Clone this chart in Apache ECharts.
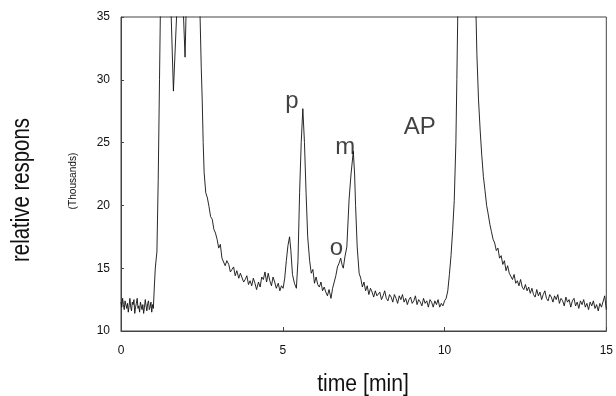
<!DOCTYPE html>
<html><head><meta charset="utf-8">
<script src="https://cdn.jsdelivr.net/npm/echarts@6/dist/echarts.min.js"></script>
<style>html,body{margin:0;padding:0;background:#fff}#c{width:616px;height:396px}</style>
</head><body><div id="c"></div>
<script>
// x tick labels (minutes) and y tick labels (thousands)
const xTicks = [0, 5, 10, 15];
const yTicks = [10, 15, 20, 25, 30, 35];

// chromatogram trace: [time (min), response (thousands)]
const baselineStart = [
 [0.00,12.3],[0.025,11.9],[0.05,12.6],[0.075,12.1],[0.10,11.7],[0.125,12.4],[0.15,12.5],[0.175,11.8],
 [0.20,12.2],[0.225,11.5],[0.25,12.0],[0.275,12.6],[0.30,11.9],[0.325,11.6],[0.35,12.3],[0.375,12.1],
 [0.40,12.5],[0.425,11.4],[0.45,11.9],[0.475,12.2],[0.50,12.6],[0.525,11.8],[0.55,12.0],[0.575,11.5],
 [0.60,12.3],[0.625,12.4],[0.65,11.7],[0.675,12.1],[0.70,11.4],[0.725,11.9],[0.75,12.5],[0.775,12.0],
 [0.80,11.6],[0.825,12.2],[0.85,12.4],[0.875,11.7],[0.90,11.9],[0.925,12.3],[0.95,11.5],[0.975,12.1],[1.00,11.8]
];
const solventPeak = [
 [1.03,13.5],[1.06,15.0],[1.09,15.8],[1.11,16.3],[1.15,22],[1.19,30],[1.22,36],[1.26,45],[1.3,60],
 [1.4,70],[1.5,40],[1.55,35.2],[1.62,29.1],[1.72,35.2],[1.78,40],[1.85,50],[1.9,40],[1.93,35.2],[1.98,31.8],
 [2.01,35.2],[2.05,40],[2.2,55],[2.3,50],[2.4,40],[2.44,35.5],[2.48,31.0],[2.51,28.4],[2.54,25.0],
 [2.57,22.6],[2.62,21.0],[2.67,20.6]
];
const solventTail = [
 [2.72,19.9],[2.77,19.1],[2.82,18.9],[2.87,18.1],[2.92,17.8],[2.97,17.3],[3.02,16.6],[3.07,16.9],
 [3.12,15.8],[3.17,15.9],[3.22,15.2],[3.27,15.6],[3.33,15.3],[3.38,14.7],[3.43,14.9],[3.48,15.1],
 [3.53,14.4],[3.58,14.8],[3.64,14.2],[3.69,14.6],[3.74,14.5],[3.79,13.9],[3.84,14.1],[3.89,14.4],
 [3.94,13.7],[3.99,14.0],[4.04,13.6],[4.09,14.2],[4.14,13.8],[4.19,13.3],[4.25,13.9],[4.30,13.5],
 [4.35,14.3],[4.40,14.1],[4.45,14.7],[4.50,13.9],[4.55,14.6],[4.60,14.0],[4.65,13.6],[4.70,14.3],
 [4.75,13.9],[4.80,13.4],[4.86,13.8],[4.91,13.2],[4.96,13.6],[5.01,13.4]
];
const analytePeaks = [
 [5.06,14.2],[5.11,15.6],[5.16,16.8],[5.21,17.5],[5.25,16.4],[5.30,14.5],[5.36,13.8],[5.42,13.4],
 [5.47,15.6],[5.52,21.0],[5.57,25.0],[5.62,27.7],[5.67,25.0],[5.72,21.0],[5.77,17.5],[5.83,15.6],
 [5.88,14.6],[5.93,14.9],[5.98,13.8],[6.03,14.3],[6.08,13.7],[6.13,13.5],[6.18,13.9],[6.23,13.2],
 [6.28,13.5],[6.33,13.1],[6.38,12.8],[6.43,13.3],[6.49,12.6],[6.54,13.4],[6.59,13.9],[6.64,14.4],
 [6.69,15.1],[6.74,15.4],[6.79,15.8],[6.83,15.3],[6.87,15.0],[6.92,15.9],[6.98,16.7],[7.05,20.5],
 [7.11,22.5],[7.18,24.3],[7.22,22.5],[7.25,20.0],[7.30,16.7],[7.36,14.6],[7.41,14.2],[7.46,13.5],
 [7.51,13.9],[7.56,13.2],[7.61,13.6],[7.66,12.9],[7.71,13.4],[7.76,13.1],[7.81,12.7],[7.86,13.2],
 [7.91,12.8]
];
const midBaseline = [
 [7.95,12.9],[8.0,13.1],[8.05,12.5],[8.1,12.8],[8.15,13.2],[8.2,12.6],[8.25,12.4],[8.3,12.9],
 [8.35,12.7],[8.4,12.3],[8.45,12.9],[8.5,12.6],[8.55,12.2],[8.6,12.8],[8.65,12.5],[8.7,12.9],
 [8.75,12.3],[8.8,12.6],[8.85,12.1],[8.9,12.5],[8.95,12.7],[9.0,12.2],[9.05,12.4],[9.1,12.8],
 [9.15,12.1],[9.2,12.5],[9.25,12.3],[9.3,12.0],[9.35,12.6],[9.4,12.2],[9.45,12.4],[9.5,11.9],
 [9.55,12.5],[9.6,12.3],[9.65,11.9],[9.7,12.4],[9.75,12.1],[9.8,12.5],[9.85,11.9],[9.9,12.2],
 [9.95,12.0],[10.0,12.4]
];
const apPeak = [
 [10.05,12.6],[10.1,13.2],[10.15,14.5],[10.2,16.0],[10.25,18.0],[10.3,20.4],[10.35,25.0],[10.38,30.0],
 [10.41,35.5],[10.45,45],[10.6,70],[10.8,70],[10.93,45],[10.97,35.5],[11.0,32.0],[11.05,28.4],
 [11.1,26.0],[11.15,24.0],[11.2,22.3],[11.25,21.2],[11.3,20.0],[11.35,19.3],[11.4,18.5],[11.45,17.9],
 [11.5,17.3],[11.55,17.0],[11.6,16.4],[11.65,16.6],[11.7,15.8],[11.75,16.0],[11.8,15.3],[11.85,15.6]
];
const apTail = [
 [11.9,14.8],[11.95,15.2],[12.0,14.6],[12.05,14.5],[12.1,14.1],[12.15,14.5],[12.2,13.8],[12.25,14.0],
 [12.3,13.6],[12.35,14.1],[12.4,13.5],[12.45,13.3],[12.5,13.7],[12.55,13.2],[12.6,13.5],[12.65,13.0],
 [12.7,13.4],[12.75,12.9],[12.8,12.7],[12.85,13.3],[12.9,12.8],[12.95,13.1],[13.0,12.5],[13.05,12.9],
 [13.1,13.2],[13.15,12.6],[13.2,12.4],[13.25,12.9],[13.3,12.7],[13.35,12.3],[13.4,12.8],[13.45,12.5],
 [13.5,12.9],[13.55,12.2],[13.6,12.6],[13.65,12.4],[13.7,12.0],[13.75,12.7],[13.8,12.3],[13.85,12.5],
 [13.9,11.9],[13.95,12.4],[14.0,12.6],[14.05,12.0],[14.1,12.3],[14.15,11.8],[14.2,12.4],[14.25,12.1],
 [14.3,12.5],[14.35,11.9],[14.4,12.2],[14.45,11.7],[14.5,12.3],[14.55,12.0],[14.6,12.4],[14.65,11.8],
 [14.7,12.1],[14.75,11.6],[14.8,12.2],[14.85,11.9],[14.9,12.0],[14.95,12.8],[15.0,11.7]
];

// peak annotations: [time, response, text]
const peakLabels = [[5.28,28.25,'p'],[6.66,16.55,'o'],[6.93,24.65,'m'],[9.23,26.25,'AP']];

const trace = [].concat(baselineStart, solventPeak, solventTail, analytePeaks, midBaseline, apPeak, apTail);

const FONT = "'Liberation Sans',Arial,sans-serif";
const chart = echarts.init(document.getElementById('c'), null, {renderer:'canvas'});
chart.setOption({
  animation:false,
  backgroundColor:'#fff',
  grid:{left:121, right:3, top:17, bottom:65, show:true, borderColor:'#444', borderWidth:1},
  xAxis:{type:'value', min:xTicks[0], max:xTicks[xTicks.length-1], interval:5,
    axisLine:{show:true, lineStyle:{color:'#444', width:1}},
    axisTick:{show:true, inside:true, length:4, lineStyle:{color:'#444'}},
    axisLabel:{fontFamily:FONT, fontSize:12, color:'#111', margin:14},
    splitLine:{show:false}},
  yAxis:{type:'value', min:yTicks[0], max:yTicks[yTicks.length-1], interval:5,
    axisLine:{show:true, lineStyle:{color:'#444', width:1}},
    axisTick:{show:true, inside:true, length:3, lineStyle:{color:'#444'}},
    axisLabel:{fontFamily:FONT, fontSize:12, color:'#111', margin:11},
    splitLine:{show:false}},
  graphic:[
    {type:'text', x:22, y:190, rotation:Math.PI/2, scaleX:0.815,
     style:{text:'relative respons', font:"25px "+FONT, fill:'#111', textAlign:'center', textVerticalAlign:'middle'}},
    {type:'text', x:73, y:181, rotation:Math.PI/2, scaleX:0.92,
     style:{text:'(Thousands)', font:"11px "+FONT, fill:'#111', textAlign:'center', textVerticalAlign:'middle'}},
    {type:'text', x:363, y:385, scaleX:0.92,
     style:{text:'time [min]', font:"23px "+FONT, fill:'#111', textAlign:'center', textVerticalAlign:'middle'}}
  ],
  series:[
    {type:'line', data:trace, showSymbol:false, symbol:'none', clip:true,
     lineStyle:{color:'#111', width:0.9}},
    {type:'scatter', data:peakLabels.map(d=>({value:[d[0],d[1]], name:d[2]})), symbolSize:0,
     label:{show:true, position:'inside', formatter:p=>p.name, fontFamily:FONT, fontSize:24, color:'#111'}}
  ]
});
</script></body></html>
